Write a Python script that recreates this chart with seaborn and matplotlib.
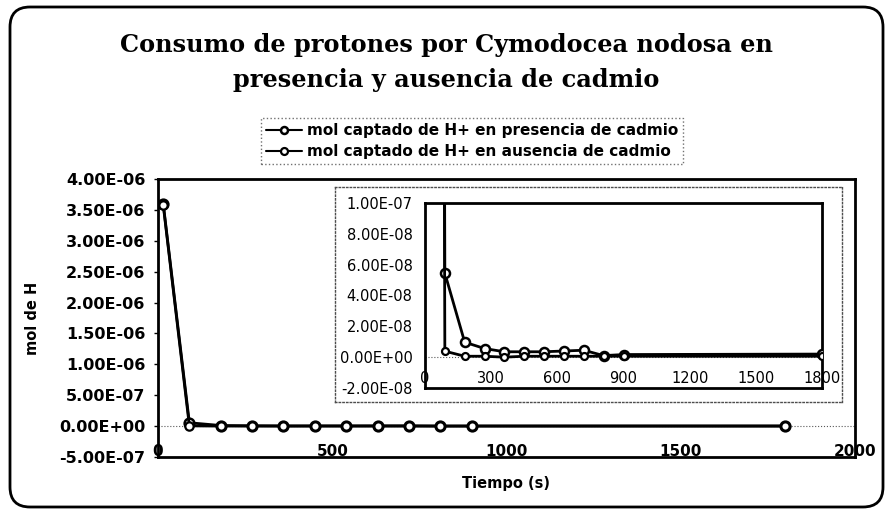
import matplotlib
matplotlib.use("Agg")
import matplotlib.pyplot as plt
from matplotlib.patches import FancyBboxPatch
from matplotlib.transforms import IdentityTransform
from matplotlib.ticker import MultipleLocator, FuncFormatter
import seaborn as sns
import pandas as pd

# datos
tiempo = [15, 90, 180, 270, 360, 450, 540, 630, 720, 810, 900, 1800]
presencia = [3.60e-6, 5.45e-8, 9.7e-9, 5.6e-9, 3.5e-9, 3.5e-9, 3.5e-9,
             4.0e-9, 4.5e-9, 1.0e-9, 1.7e-9, 2.0e-9]
ausencia = [3.58e-6, 3.9e-9, 6e-10, 6e-10, 0.0, 6e-10, 6e-10,
            6e-10, 6e-10, 6e-10, 6e-10, 6e-10]
etiqueta_pres = "mol captado de H+ en presencia de cadmio"
etiqueta_aus = "mol captado de H+ en ausencia de cadmio"

df = pd.DataFrame({"t": tiempo, "pres": presencia, "aus": ausencia})

sns.set_theme(style="white")
plt.rcParams["font.family"] = ["DejaVu Sans"]
plt.rcParams.update({"text.color": "black", "axes.labelcolor": "black",
                     "xtick.color": "black", "ytick.color": "black"})


def fmt_e(v, _):
    if abs(v) < 1e-15:
        v = 0.0
    return f"{v:.2E}"


def dibujar(ax, ms_p, ms_a):
    sns.lineplot(data=df, x="t", y="pres", ax=ax, color="black", lw=2,
                 marker="o", markersize=ms_p, markerfacecolor="white",
                 markeredgecolor="black", markeredgewidth=1.8,
                 label=etiqueta_pres, sort=False, zorder=3)
    sns.lineplot(data=df, x="t", y="aus", ax=ax, color="black", lw=2,
                 marker="o", markersize=ms_a, markerfacecolor="white",
                 markeredgecolor="black", markeredgewidth=1.6,
                 label=etiqueta_aus, sort=False, zorder=3)
    ax.axhline(0, color="0.35", lw=0.8, ls=":", zorder=1)
    for s in ax.spines.values():
        s.set_visible(True)
        s.set_color("black")
        s.set_linewidth(2)


fig = plt.figure(figsize=(8.93, 5.13), dpi=100)
W, H = 893, 513


def rect(x0, y0, x1, y1):
    # pixel coords (origen arriba-izquierda) -> fraccion de figura
    return [x0 / W, 1 - y1 / H, (x1 - x0) / W, (y1 - y0) / H]


# borde redondeado exterior (en pixeles)
borde = FancyBboxPatch((10, 6), 873, 500,
                       boxstyle="round,pad=0,rounding_size=20",
                       transform=IdentityTransform(), fill=False,
                       edgecolor="black", lw=2)
fig.patches.append(borde)

# grafico principal
ax = fig.add_axes(rect(158, 179, 855, 457))
dibujar(ax, 7, 6)
ax.set_xlim(0, 2000)
ax.set_ylim(-5e-7, 4e-6)
ax.xaxis.set_major_locator(MultipleLocator(500))
ax.yaxis.set_major_locator(MultipleLocator(5e-7))
ax.yaxis.set_major_formatter(FuncFormatter(fmt_e))
ax.tick_params(axis="y", direction="out", length=3, width=1, left=True,
               labelsize=11.5, pad=6)
ax.tick_params(axis="x", length=0, labelsize=11, pad=-9)
for lab in ax.get_xticklabels() + ax.get_yticklabels():
    lab.set_fontweight("bold")
ax.set_xlabel("Tiempo (s)", fontsize=10.5, fontweight="bold", labelpad=12)
ax.set_ylabel("mol de H", fontsize=10.5, fontweight="bold", labelpad=14)
handles, labels = ax.get_legend_handles_labels()
ax.get_legend().remove()

# marco punteado del recuadro
caja = fig.add_axes(rect(335, 187, 842, 402))
caja.set_xticks([])
caja.set_yticks([])
caja.set_facecolor("white")
for s in caja.spines.values():
    s.set_visible(True)
    s.set_color("0.3")
    s.set_linewidth(1)
    s.set_linestyle(":")

# recuadro ampliado
axi = fig.add_axes(rect(425, 203, 822, 388))
dibujar(axi, 6.5, 5)
axi.get_legend().remove()
axi.set_xlim(0, 1800)
axi.set_ylim(-2e-8, 1e-7)
axi.xaxis.set_major_locator(MultipleLocator(300))
axi.yaxis.set_major_locator(MultipleLocator(2e-8))
axi.yaxis.set_major_formatter(FuncFormatter(fmt_e))
axi.tick_params(axis="y", length=0, labelsize=10.5, pad=9)
axi.tick_params(axis="x", length=0, labelsize=10.5, pad=-12)
axi.set_xlabel("")
axi.set_ylabel("")

# titulo
fig.text(0.5, 1 - 45 / H, "Consumo de protones por Cymodocea nodosa en",
         ha="center", va="center", family="DejaVu Serif", fontsize=17.3,
         fontweight="bold")
fig.text(0.5, 1 - 80 / H, "presencia y ausencia de cadmio",
         ha="center", va="center", family="DejaVu Serif", fontsize=17.3,
         fontweight="bold")

# leyenda
leg = fig.legend(handles, labels, loc="center", bbox_to_anchor=(472 / W, 1 - 141 / H),
                 frameon=True, fancybox=False, handlelength=2.4,
                 handletextpad=0.3, borderpad=0.3, labelspacing=0.4,
                 prop={"weight": "bold", "size": 11})
leg.get_frame().set_edgecolor("0.3")
leg.get_frame().set_linestyle(":")
leg.get_frame().set_linewidth(1)
for h in leg.legend_handles:
    h.set_markersize(5)
    h.set_linewidth(1.5)

fig.savefig("out.png", dpi=100)
